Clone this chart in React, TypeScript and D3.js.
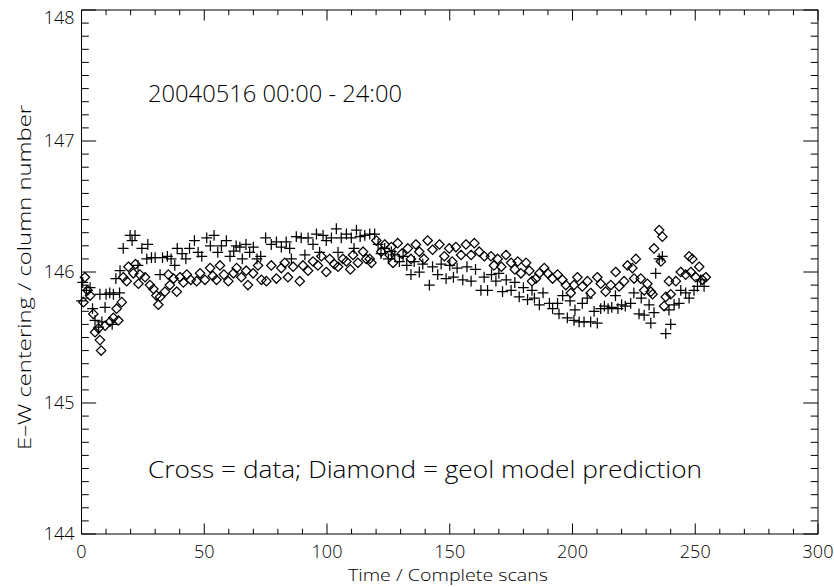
import React, { useRef, useEffect } from 'react';
import * as d3 from 'd3';

// Cross = data (scan number, column)
const crossT = [
  0, 0.5, 2, 3.5, 4.5, 5.5, 7, 7.5, 8.3, 9.6, 10, 11.5, 12.5, 13, 14, 15.5, 15.7, 17, 19.8, 20.6,
  21.8, 23, 24.6, 26.6, 27, 28.5, 30, 32, 33, 35, 36.5, 38, 39, 41, 42.5, 44, 46, 47.5, 49, 51,
  52.5, 54, 55.5, 57, 59, 60.5, 62, 63, 64.5, 65.5, 67, 68.5, 70, 71.5, 73, 75, 77.3, 79.4, 81.4, 83.4,
  84.8, 85.5, 87.5, 89.5, 91, 92.3, 94.3, 95.7, 97, 98.4, 99.7, 101.8, 103.8, 104.5, 105.8, 107.9, 109.9, 111, 112, 113.5,
  115.4, 117.4, 119.4, 120.8, 122, 123.5, 125, 126.2, 127.6, 129.5, 131, 132.5, 134.2, 135.5, 137.6, 139, 141.7, 143, 145.1, 146.5,
  148.5, 150, 151.5, 153, 155.3, 157, 158.7, 160.5, 162.7, 164, 165.4, 167, 168.8, 170, 171.5, 173, 175, 176.5, 178.3, 180,
  181.7, 183.5, 184.5, 186.5, 188, 190.6, 191.9, 193.9, 194.5, 196, 197.9, 199, 200.6, 201, 202.7, 204, 204.7, 206, 207.4, 208.8,
  210.1, 211.5, 213, 214.5, 216, 217.5, 218.5, 220, 221.5, 223.7, 225, 227.1, 228, 229.2, 231.2, 231.9, 233.2, 233.9, 235.3, 236.6,
  238, 239.3, 240, 241.4, 243.4, 244.1, 246.1, 247.5, 249.5, 250.9, 252.2, 253.6,
];
const crossV = [
  145.78, 145.92, 145.86, 145.88, 145.72, 145.63, 145.58, 145.83, 145.62, 145.73, 145.83, 145.84, 145.6, 145.83, 145.95, 145.84, 146.01, 146.18, 146.28, 146.24,
  146.28, 146.05, 146.18, 146.1, 146.21, 146.11, 146.11, 145.98, 146.11, 146.12, 146.1, 146.05, 146.18, 146.14, 146.1, 146.18, 146.24, 146.15, 146.12, 146.26,
  146.2, 146.28, 146.15, 146.2, 146.24, 146.12, 146.16, 146.2, 146.19, 146.1, 146.21, 146.15, 146.19, 146.1, 146.12, 146.26, 146.21, 146.23, 146.19, 146.23,
  146.18, 146.1, 146.27, 146.26, 146.13, 146.26, 146.21, 146.29, 146.15, 146.28, 146.24, 146.26, 146.33, 146.15, 146.26, 146.29, 146.26, 146.18, 146.32, 146.27,
  146.28, 146.29, 146.29, 146.21, 146.14, 146.18, 146.1, 146.155, 146.13, 146.08, 146.12, 146.05, 145.98, 146.08, 146.0, 146.06, 145.9, 146.04, 145.98, 146.06,
  145.95, 146.05, 145.96, 146.03, 145.94, 146.04, 145.93, 146.02, 145.86, 145.96, 145.86, 145.98, 145.93, 145.99, 145.85, 145.94, 145.86, 145.92, 145.81, 145.88,
  145.79, 145.86, 145.8, 145.75, 145.84, 145.76, 145.72, 145.76, 145.68, 145.82, 145.65, 145.78, 145.63, 145.71, 145.62, 145.76, 145.62, 145.8, 145.62, 145.7,
  145.61, 145.72, 145.74, 145.72, 145.73, 145.82, 145.72, 145.75, 145.74, 145.76, 145.84, 145.68, 145.8, 145.67, 145.75, 145.61, 145.69, 145.99, 146.1, 146.12,
  145.53, 145.71, 145.6, 145.75, 145.76, 145.86, 145.84, 145.8, 145.86, 145.89, 145.94, 145.89,
];

// Diamond = geol model prediction
const diamondT = [
  1.4, 0.8, 2.5, 3.5, 4.8, 5.5, 6.9, 7.5, 8, 9.6, 11.6, 13, 14.3, 15, 16.4, 17, 18.4, 19.1, 21.1, 22,
  23.2, 23.8, 25.9, 27.9, 29.3, 30.5, 31.3, 32, 34, 35.4, 36, 37.5, 38.8, 40.1, 41.5, 42.9, 44.5, 46.9, 48.3, 50.3,
  52.4, 53.5, 55, 56.4, 58, 59.8, 61.9, 63.2, 65.1, 67.1, 67.8, 69.9, 71.9, 73.3, 75.3, 77.3, 79.4, 81.4, 82.8, 84.1,
  86.2, 88.9, 90.2, 92.3, 94.3, 96.3, 97.7, 99.7, 101.1, 103, 104.5, 106.5, 107.9, 109.5, 110.6, 112.6, 114.7, 116, 117.4, 118.1,
  120.1, 122.1, 123.5, 125.5, 126.2, 126.9, 128.8, 130.5, 132.9, 134.2, 136.2, 137.6, 139.5, 141, 143, 145.8, 147.8, 149.8, 151, 152.5,
  154.6, 156.6, 158.7, 160, 162, 164.1, 166.8, 168, 169.5, 171, 172.9, 175, 176.5, 177.7, 179, 181.1, 182.4, 183.5, 185.1, 186.5,
  188.5, 189.9, 191.9, 193.9, 195.9, 197.3, 199.3, 200.6, 202, 204, 206.1, 207.4, 210.1, 211.5, 213.5, 215.6, 217.6, 219, 221, 222.4,
  224.4, 225.1, 225.8, 227.8, 229.2, 230.5, 231.9, 232.6, 233.2, 235.3, 236, 236.6, 237.3, 238, 239.3, 240, 242.1, 244.1, 246.1, 247.5,
  248.2, 248.8, 250.2, 251.6, 252.9, 254.3,
];
const diamondV = [
  145.96, 145.77, 145.86, 145.82, 145.68, 145.54, 145.57, 145.48, 145.4, 145.59, 145.62, 145.65, 145.72, 145.63, 145.77, 145.96, 145.93, 146.04, 145.99, 146.06,
  145.91, 145.98, 145.96, 145.9, 145.87, 145.82, 145.75, 145.81, 145.85, 145.98, 145.9, 145.95, 145.85, 145.96, 145.92, 145.98, 145.94, 145.93, 145.99, 145.94,
  146.03, 145.97, 145.94, 146.05, 145.98, 145.93, 145.99, 146.03, 145.96, 146.01, 145.9, 145.99, 146.05, 145.94, 145.93, 146.05, 145.95, 146.03, 146.07, 145.96,
  146.04, 145.93, 146.05, 146.01, 146.08, 146.05, 146.12, 146.0, 146.1, 146.06, 146.04, 146.1, 146.08, 146.02, 146.13, 146.07, 146.155, 146.1, 146.1, 146.07,
  146.24, 146.155, 146.21, 146.13, 146.19, 146.07, 146.22, 146.14, 146.18, 146.1, 146.21, 146.155, 146.1, 146.24, 146.17, 146.21, 146.12, 146.18, 146.08, 146.19,
  146.13, 146.21, 146.13, 146.22, 146.155, 146.12, 146.12, 146.05, 146.1, 146.04, 146.13, 146.07, 146.02, 146.08, 145.99, 146.07, 146.01, 145.93, 145.95, 145.99,
  146.03, 145.99, 145.95, 145.98, 145.94, 145.9, 145.84, 145.9, 145.96, 145.89, 145.93, 145.84, 145.96, 145.91, 145.85, 145.9, 146.0, 145.89, 145.93, 146.05,
  146.03, 145.95, 146.1, 145.95, 145.86, 145.91, 145.85, 145.83, 146.18, 146.32, 146.08, 146.27, 145.74, 145.81, 145.93, 145.83, 145.93, 146.0, 145.98, 146.12,
  146.0, 146.1, 145.96, 146.04, 145.94, 145.96,
];

const xTicks = [0, 50, 100, 150, 200, 250, 300];
const yTicks = [144, 145, 146, 147, 148];

const title = '20040516 00:00 - 24:00';
const note = 'Cross = data; Diamond = geol model prediction';
const xLabel = 'Time / Complete scans';
const yLabel = 'E\u2013W centering / column number';

const App: React.FC = () => {
  const ref = useRef<SVGSVGElement | null>(null);

  useEffect(() => {
    if (!ref.current) return;
    document.body.style.margin = '0';
    const svg = d3.select(ref.current);
    svg.selectAll('*').remove();

    const width = 834;
    const height = 587;
    const margin = { top: 10, right: 16, bottom: 53, left: 81.5 };
    const x0 = margin.left;
    const x1 = width - margin.right;
    const y0 = height - margin.bottom;
    const y1 = margin.top;
    const font = "'Open Sans', 'DejaVu Sans', sans-serif";

    svg.attr('width', width).attr('height', height);
    svg.append('rect').attr('width', width).attr('height', height).attr('fill', '#fff');

    const x = d3.scaleLinear().domain([0, 300]).range([x0, x1]);
    const y = d3.scaleLinear().domain([144, 148]).range([y0, y1]);

    // frame
    svg.append('rect')
      .attr('x', x0).attr('y', y1)
      .attr('width', x1 - x0).attr('height', y0 - y1)
      .attr('fill', 'none').attr('stroke', '#000').attr('stroke-width', 1);

    const xMajLen = 10.5, xMinLen = 5.2;
    const yMajLen = 14.7, yMinLen = 7.3;
    const ticks = svg.append('g').attr('stroke', '#000').attr('stroke-width', 1);

    d3.range(0, 301, 10).forEach(v => {
      const len = v % 50 === 0 ? xMajLen : xMinLen;
      ticks.append('line').attr('x1', x(v)).attr('x2', x(v)).attr('y1', y0).attr('y2', y0 - len);
      ticks.append('line').attr('x1', x(v)).attr('x2', x(v)).attr('y1', y1).attr('y2', y1 + len);
    });
    d3.range(0, 41).forEach(i => {
      const v = 144 + i * 0.1;
      const len = i % 10 === 0 ? yMajLen : yMinLen;
      ticks.append('line').attr('y1', y(v)).attr('y2', y(v)).attr('x1', x0).attr('x2', x0 + len);
      ticks.append('line').attr('y1', y(v)).attr('y2', y(v)).attr('x1', x1).attr('x2', x1 - len);
    });

    // tick labels
    svg.append('g')
      .selectAll('text')
      .data(xTicks)
      .join('text')
      .attr('x', d => x(d))
      .attr('y', y0 + 24)
      .attr('text-anchor', 'middle')
      .attr('font-family', font)
      .attr('font-weight', 300)
      .attr('font-size', 18)
      .text(d => d);

    svg.append('g')
      .selectAll('text')
      .data(yTicks)
      .join('text')
      .attr('x', x0 - 7)
      .attr('y', d => Math.max(y(d) + 6, 24))
      .attr('text-anchor', 'end')
      .attr('font-family', font)
      .attr('font-weight', 300)
      .attr('font-size', 18)
      .text(d => d);

    svg.append('text')
      .attr('x', 348)
      .attr('y', 581)
      .attr('textLength', 200)
      .attr('lengthAdjust', 'spacingAndGlyphs')
      .attr('font-family', font)
      .attr('font-weight', 300)
      .attr('font-size', 16)
      .text(xLabel);

    svg.append('text')
      .attr('transform', `translate(31,450) rotate(-90)`)
      .attr('textLength', 345)
      .attr('lengthAdjust', 'spacingAndGlyphs')
      .attr('font-family', font)
      .attr('font-weight', 300)
      .attr('font-size', 18)
      .text(yLabel);

    svg.append('text')
      .attr('x', 148)
      .attr('y', 102)
      .attr('textLength', 254)
      .attr('lengthAdjust', 'spacingAndGlyphs')
      .attr('font-family', font)
      .attr('font-weight', 300)
      .attr('font-size', 23)
      .text(title);

    svg.append('text')
      .attr('x', 148)
      .attr('y', 478)
      .attr('textLength', 554)
      .attr('lengthAdjust', 'spacingAndGlyphs')
      .attr('font-family', font)
      .attr('font-weight', 300)
      .attr('font-size', 23)
      .text(note);

    // markers
    const plot = svg.append('g').attr('fill', 'none').attr('stroke', '#000').attr('stroke-width', 1.25);

    const diamonds = diamondT.map((t, i) => ({ t, v: diamondV[i] }));
    plot.append('g')
      .selectAll('path')
      .data(diamonds)
      .join('path')
      .attr('transform', d => `translate(${x(d.t)},${y(d.v)})`)
      .attr('d', 'M0,-4.7L4.7,0L0,4.7L-4.7,0Z');

    const crosses = crossT.map((t, i) => ({ t, v: crossV[i] }));
    plot.append('g')
      .selectAll('path')
      .data(crosses)
      .join('path')
      .attr('transform', d => `translate(${x(d.t)},${y(d.v)})`)
      .attr('d', 'M-5.4,0H5.4M0,-5.4V5.4');
  }, []);

  return <svg ref={ref} />;
};

export default App;
